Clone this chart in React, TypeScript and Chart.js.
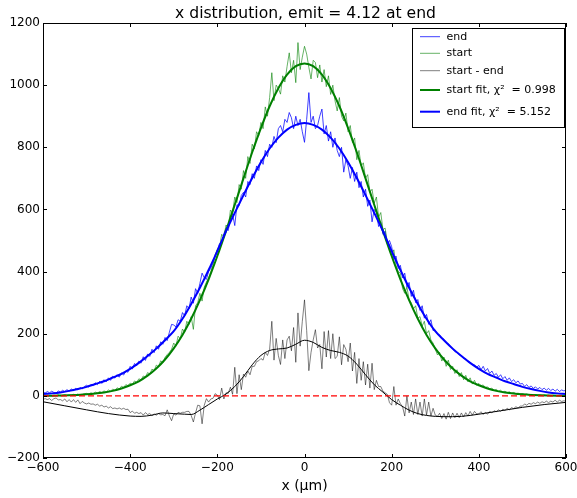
import React, { useEffect, useRef } from 'react';
import { Chart, registerables } from 'chart.js';

Chart.register(...registerables);

const TITLE = 'x distribution, emit = 4.12 at end';
const X_LABEL = 'x (μm)';

// histogram bins: -600 .. 600 in steps of 5 µm
const BIN_START = -600;
const BIN_STEP = 5;

const startCounts = [
  1, 0, 2, 1, 0, 2, 1, 3, 0, 2, 4, 1, 3, 2, 5, 3, 6, 2, 4, 7,
  8, 5, 10, 7, 12, 9, 14, 10, 16, 12, 19, 15, 22, 18, 26, 21, 31, 27, 36, 33,
  41, 37, 48, 44, 55, 51, 64, 60, 75, 70, 86, 81, 99, 93, 113, 106, 124, 133, 140, 150,
  170, 160, 192, 184, 215, 205, 240, 230, 255, 214, 290, 300, 330, 305, 350, 366, 380, 400, 420, 455,
  472, 478, 520, 512, 550, 540, 598, 590, 640, 622, 680, 665, 725, 700, 770, 748, 810, 795, 850, 838,
  880, 860, 930, 900, 960, 1040, 950, 1000, 990, 971, 1030, 1010, 1060, 1104, 1040, 1080, 1008, 1137, 1050, 1090,
  1125, 1100, 1057, 1020, 1080, 1073, 1024, 1065, 1010, 1050, 995, 1030, 970, 1000, 950, 917, 960, 900, 885, 910,
  850, 870, 815, 830, 760, 790, 740, 750, 700, 712, 655, 665, 620, 640, 575, 590, 535, 540, 495, 478,
  450, 470, 420, 400, 395, 345, 330, 350, 310, 300, 280, 290, 250, 255, 225, 240, 200, 210, 180, 170,
  150, 132, 140, 112, 125, 95, 115, 85, 95, 72, 84, 62, 75, 52, 66, 45, 58, 38, 50, 34,
  40, 33, 35, 27, 29, 22, 25, 18, 21, 15, 18, 12, 15, 10, 13, 8, 11, 7, 9, 5,
  7, 4, 6, 3, 5, 2, 4, 2, 3, 1, 3, 1, 2, 0, 2, 1, 1, 0, 1, 0,
  1,
];

const endCounts = [
  12, 9, 14, 10, 15, 11, 8, 16, 12, 18, 14, 20, 15, 22, 17, 24, 19, 27, 22, 30,
  34, 28, 37, 33, 42, 36, 47, 40, 52, 45, 58, 50, 63, 57, 68, 60, 74, 67, 80, 76,
  95, 86, 104, 97, 112, 105, 126, 114, 135, 127, 150, 139, 161, 150, 174, 166, 188, 178, 205, 230,
  228, 222, 245, 240, 268, 258, 290, 280, 318, 298, 345, 330, 362, 395, 380, 375, 400, 410, 428, 448,
  470, 490, 495, 522, 540, 532, 570, 585, 548, 615, 612, 645, 655, 640, 690, 680, 715, 700, 740, 725,
  760, 745, 790, 770, 810, 800, 835, 815, 860, 870, 850, 890, 880, 912, 895, 860, 900, 870, 890, 850,
  816, 890, 976, 880, 900, 860, 870, 900, 923, 843, 870, 820, 850, 800, 830, 790, 770, 800, 720, 760,
  740, 700, 735, 690, 720, 670, 690, 640, 665, 610, 630, 560, 600, 590, 545, 560, 520, 530, 490, 500,
  480, 440, 450, 410, 420, 380, 395, 350, 365, 320, 340, 300, 310, 275, 290, 250, 262, 230, 245, 210,
  212, 198, 196, 185, 182, 170, 168, 158, 150, 142, 140, 132, 130, 120, 120, 110, 108, 100, 100, 92,
  98, 84, 95, 80, 88, 72, 80, 66, 72, 60, 68, 55, 62, 50, 58, 46, 52, 42, 48, 38,
  40, 30, 36, 27, 32, 24, 29, 22, 27, 20, 25, 18, 24, 17, 22, 15, 21, 14, 19, 16,
  18,
];

// fitted curves sampled every 20 µm
const fitX = [
  -600, -580, -560, -540, -520, -500, -480, -460, -440, -420, -400, -380, -360, -340, -320, -300,
  -280, -260, -240, -220, -200, -180, -160, -140, -120, -100, -80, -60, -40, -20, 0,
  20, 40, 60, 80, 100, 120, 140, 160, 180, 200, 220, 240, 260, 280, 300,
  320, 340, 360, 380, 400, 420, 440, 460, 480, 500, 520, 540, 560, 580, 600,
];

const startFit = [
  0.4, 0.7, 1.2, 1.9, 3.1, 4.8, 7.3, 11, 16, 23.5, 34, 47, 65, 88, 117, 153,
  196, 248, 308, 375, 450, 531, 615, 700, 784, 862, 932, 990, 1034, 1061, 1070,
  1061, 1034, 990, 932, 862, 784, 700, 615, 531, 450, 375, 308, 248, 196, 153,
  117, 88, 65, 47, 34, 23.5, 16, 11, 7.3, 4.8, 3.1, 1.9, 1.2, 0.7, 0.4,
];

const endFit = [
  6, 8, 11, 16, 22, 29, 38, 47, 59, 71, 87, 106, 128, 152, 179, 208,
  248, 296, 348, 405, 466, 530, 589, 646, 701, 752, 796, 831, 857, 872, 878,
  872, 857, 831, 796, 752, 701, 646, 589, 530, 466, 405, 348, 296, 248, 208,
  179, 152, 128, 106, 87, 71, 59, 47, 38, 29, 22, 16, 11, 8, 6,
];

// smoothed start - end
const diffX = [
  -600, -550, -500, -450, -400, -375, -350, -325, -300, -275, -260, -240, -220, -200,
  -180, -160, -140, -120, -100, -80, -60, -40, -20, 0, 20, 40, 60, 80, 100,
  120, 140, 160, 180, 200, 220, 240, 260, 280, 300, 320, 340, 360, 380, 400,
  450, 500, 550, 600,
];
const diffSmooth = [
  -19, -32, -45, -57, -65, -66, -62, -55, -57, -59, -60, -46, -28, -10,
  6, 30, 62, 100, 130, 146, 151, 154, 166, 179, 172, 156, 146, 140, 128,
  102, 68, 36, 12, -12, -30, -46, -57, -63, -66, -67, -67, -66, -63, -59,
  -48, -37, -28, -21,
];

const zeroLineX = [-600, 600];
const zeroLineY = [0, 0];

const xTicks = [-600, -400, -200, 0, 200, 400, 600];
const yTicks = [-200, 0, 200, 400, 600, 800, 1000, 1200];

const fmt = (v: number) => (v < 0 ? '\u2212' + Math.abs(v) : String(v));

export default function App() {
  const ref = useRef<HTMLCanvasElement>(null);

  useEffect(() => {
    document.body.style.margin = '0';
    const binX = startCounts.map((_, i) => BIN_START + i * BIN_STEP);
    const pts = (xs: number[], ys: number[]) => xs.map((x, i) => ({ x, y: ys[i] }));
    const startMinusEnd = startCounts.map((v, i) => v - endCounts[i]);

    const framePlugin = {
      id: 'frame',
      afterDatasetsDraw(chart: any) {
        const { ctx, chartArea: ca, scales } = chart;
        ctx.save();
        ctx.strokeStyle = '#000';
        ctx.lineWidth = 1;
        ctx.strokeRect(ca.left + 0.5, ca.top + 0.5, ca.right - ca.left - 1, ca.bottom - ca.top - 1);
        const L = 4;
        ctx.beginPath();
        xTicks.forEach((v) => {
          const px = Math.round(scales.x.getPixelForValue(v)) + 0.5;
          ctx.moveTo(px, ca.bottom);
          ctx.lineTo(px, ca.bottom - L);
          ctx.moveTo(px, ca.top);
          ctx.lineTo(px, ca.top + L);
        });
        yTicks.forEach((v) => {
          const py = Math.round(scales.y.getPixelForValue(v)) + 0.5;
          ctx.moveTo(ca.left, py);
          ctx.lineTo(ca.left + L, py);
          ctx.moveTo(ca.right, py);
          ctx.lineTo(ca.right - L, py);
        });
        ctx.stroke();
        ctx.restore();
      },
    };

    const textPlugin = {
      id: 'texts',
      afterDraw(chart: any) {
        const { ctx, chartArea: ca } = chart;
        ctx.save();
        ctx.fillStyle = '#000';
        ctx.textAlign = 'center';
        ctx.textBaseline = 'alphabetic';
        ctx.font = '15.6px "DejaVu Sans"';
        ctx.fillText(TITLE, (ca.left + ca.right) / 2 + 1, 18);
        ctx.textBaseline = 'middle';
        ctx.font = '14px "DejaVu Sans"';
        ctx.fillText(X_LABEL, (ca.left + ca.right) / 2, 486);

        // legend
        const bw = 152;
        const bh = 99;
        const bx = ca.right - bw - 1.5;
        const by = ca.top + 5.5;
        ctx.fillStyle = '#fff';
        ctx.fillRect(bx, by, bw, bh);
        ctx.strokeStyle = '#000';
        ctx.lineWidth = 1;
        ctx.strokeRect(bx, by, bw, bh);
        const rows = [13.7, 30.3, 47.7, 67, 88.7];
        const items = chart.data.datasets.filter((d: any) => d.inLegend);
        ctx.font = '11px "DejaVu Sans"';
        ctx.textAlign = 'left';
        items.forEach((d: any, i: number) => {
          const y = ca.top + rows[i];
          ctx.strokeStyle = d.borderColor;
          ctx.lineWidth = d.borderWidth;
          ctx.beginPath();
          ctx.moveTo(bx + 7.5, y);
          ctx.lineTo(bx + 27.5, y);
          ctx.stroke();
          ctx.fillStyle = '#000';
          ctx.fillText(d.label, bx + 34, y);
        });
        ctx.restore();
      },
    };

    const chart = new Chart(ref.current as HTMLCanvasElement, {
      type: 'line',
      data: {
        datasets: [
          {
            label: 'end', inLegend: true, data: pts(binX, endCounts),
            borderColor: 'rgba(0,0,255,0.75)', borderWidth: 1, order: 7,
          },
          {
            label: 'start', inLegend: true, data: pts(binX, startCounts),
            borderColor: 'rgba(0,128,0,0.6)', borderWidth: 1, order: 6,
          },
          {
            label: 'start - end', inLegend: true, data: pts(binX, startMinusEnd),
            borderColor: 'rgba(0,0,0,0.5)', borderWidth: 1, order: 5,
          },
          {
            label: 'start fit, χ²  = 0.998', inLegend: true, data: pts(fitX, startFit),
            borderColor: '#008000', borderWidth: 2, cubicInterpolationMode: 'monotone', order: 4,
          },
          {
            label: 'end fit, χ²  = 5.152', inLegend: true, data: pts(fitX, endFit),
            borderColor: '#0000ff', borderWidth: 2, cubicInterpolationMode: 'monotone', order: 3,
          },
          {
            label: 'start - end smoothed', inLegend: false, data: pts(diffX, diffSmooth),
            borderColor: '#000', borderWidth: 1, cubicInterpolationMode: 'monotone', order: 2,
          },
          {
            label: 'zero', inLegend: false, data: pts(zeroLineX, zeroLineY),
            borderColor: '#ff0000', borderWidth: 1.3, borderDash: [6, 3], order: 1,
          },
        ] as any,
      },
      options: {
        responsive: false,
        animation: false,
        devicePixelRatio: 1,
        layout: { padding: { top: 23, right: 11, left: 0, bottom: 0 } },
        elements: { point: { radius: 0, hitRadius: 0 }, line: { tension: 0 } },
        plugins: {
          legend: { display: false },
          title: { display: false },
          tooltip: { enabled: false },
        },
        events: [],
        scales: {
          x: {
            type: 'linear',
            min: -600,
            max: 600,
            afterFit: (s: any) => { s.height = 40; s.paddingLeft = 0; s.paddingRight = 0; },
            afterBuildTicks: (s: any) => { s.ticks = xTicks.map((v) => ({ value: v })); },
            ticks: {
              font: { family: 'DejaVu Sans', size: 12 },
              color: '#000',
              padding: 3,
              maxRotation: 0,
              autoSkip: false,
              callback: (v: any) => fmt(Number(v)),
            },
            grid: { display: false, drawTicks: false },
            border: { display: false },
          },
          y: {
            type: 'linear',
            min: -200,
            max: 1200,
            afterFit: (s: any) => { s.width = 43; s.paddingTop = 0; s.paddingBottom = 0; },
            afterBuildTicks: (s: any) => { s.ticks = yTicks.map((v) => ({ value: v })); },
            ticks: {
              font: { family: 'DejaVu Sans', size: 12 },
              color: '#000',
              padding: 3,
              autoSkip: false,
              callback: (v: any) => fmt(Number(v)),
            },
            grid: { display: false, drawTicks: false },
            border: { display: false },
          },
        },
      } as any,
      plugins: [framePlugin, textPlugin],
    });

    return () => chart.destroy();
  }, []);

  return (
    <div style={{ position: 'absolute', left: 0, top: 0, width: 577, height: 498, background: '#fff' }}>
      <canvas ref={ref} width={577} height={498} style={{ display: 'block', width: 577, height: 498 }} />
    </div>
  );
}
